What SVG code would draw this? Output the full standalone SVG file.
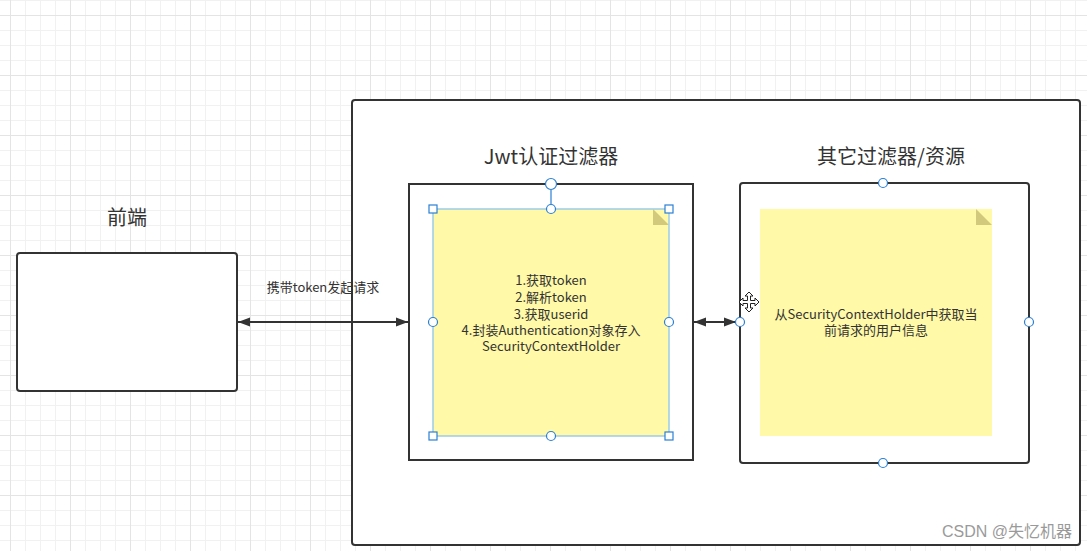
<svg xmlns="http://www.w3.org/2000/svg" width="1087" height="551" viewBox="0 0 1087 551">
<defs>
<pattern id="minor" x="10" y="0" width="15" height="15" patternUnits="userSpaceOnUse">
<path d="M0.5 0V15M0 0.5H15" stroke="#f1f1f1" stroke-width="1" fill="none"/>
</pattern>
<pattern id="major" x="10" y="15" width="60" height="60" patternUnits="userSpaceOnUse">
<path d="M0.5 0V60M0 0.5H60" stroke="#e4e4e4" stroke-width="1" fill="none"/>
</pattern>
<marker id="ah" viewBox="0 0 12 10" refX="12" refY="5" markerWidth="12" markerHeight="10" markerUnits="userSpaceOnUse" orient="auto-start-reverse">
<path d="M0 0.5L12 5L0 9.5Z" fill="#333"/>
</marker>
</defs>
<style>
.box{fill:#fff;stroke:#333;stroke-width:2}
.note{fill:#fff9a8}
.fold{fill:#d3c97c}
.sel{fill:none;stroke:#9ccbe9;stroke-width:1.5}
.h{fill:#fff;stroke:#2a7fd4;stroke-width:1.2}
.t{font-family:"Microsoft YaHei","Noto Sans CJK SC",sans-serif;fill:#333}
.lbl{font-size:13px;text-anchor:middle}
.ttl{font-size:20px;text-anchor:middle}
.conn{stroke:#333;stroke-width:2;fill:none}
</style>
<rect width="1087" height="551" fill="#fff"/>
<rect width="1087" height="551" fill="url(#minor)"/>
<rect width="1087" height="551" fill="url(#major)"/>

<g id="container">
<rect class="box" x="352" y="100" width="728" height="445" rx="3"/>
</g>

<g id="frontend">
<rect class="box" x="17" y="253" width="220" height="138" rx="3"/>
<text class="t ttl" x="127" y="225" font-size="18">前端</text>
</g>

<g id="jwt-filter">
<text class="t ttl" x="551" y="164" font-size="21">Jwt认证过滤器</text>
<rect class="box" x="409" y="184" width="284" height="276"/>
<g id="jwt-note">
<rect class="note" x="433" y="209" width="236" height="227"/>
<path class="fold" d="M653 209L669 225H653Z"/>
<rect class="sel" x="433" y="209" width="236" height="227"/>
<text class="t lbl"><tspan x="551" y="285">1.获取token</tspan><tspan x="551" y="302">2.解析token</tspan><tspan x="551" y="319">3.获取userid</tspan><tspan x="551" y="335">4.封装Authentication对象存入</tspan><tspan x="551" y="351">SecurityContextHolder</tspan></text>
<line x1="551" y1="190" x2="551" y2="204" stroke="#2a7fd4" stroke-width="1.2"/>
<circle class="h" cx="551" cy="184" r="5.5"/>
<circle class="h" cx="551" cy="209" r="4.5"/>
<circle class="h" cx="551" cy="436" r="4.5"/>
<circle class="h" cx="433" cy="322" r="4.5"/>
<circle class="h" cx="669" cy="322" r="4.5"/>
<rect class="h" x="429" y="205" width="8" height="8"/>
<rect class="h" x="665" y="205" width="8" height="8"/>
<rect class="h" x="429" y="432" width="8" height="8"/>
<rect class="h" x="665" y="432" width="8" height="8"/>
</g>
</g>

<g id="other-filters">
<text class="t ttl" x="891" y="164">其它过滤器/资源</text>
<rect class="box" x="740" y="183" width="289" height="280" rx="3"/>
<g id="other-note">
<rect class="note" x="760" y="209" width="232" height="227"/>
<path class="fold" d="M976 209L992 225H976Z"/>
<text class="t lbl"><tspan x="876" y="319">从SecurityContextHolder中获取当</tspan><tspan x="876" y="335">前请求的用户信息</tspan></text>
</g>
<circle class="h" cx="883" cy="183" r="4.5"/>
<circle class="h" cx="883" cy="463" r="4.5"/>
<circle class="h" cx="1029" cy="322" r="4.5"/>
</g>

<g id="connectors">
<line class="conn" x1="238" y1="322" x2="408" y2="322" marker-start="url(#ah)" marker-end="url(#ah)"/>
<text class="t lbl" x="323" y="292">携带token发起请求</text>
<line class="conn" x1="694" y1="322" x2="736" y2="322" marker-start="url(#ah)" marker-end="url(#ah)"/>
<circle class="h" cx="740" cy="322" r="4.5"/>
</g>

<g id="cursor" transform="translate(749 302)">
<path d="M0-10L4-6H1.5V-1.5H6V-4L10 0L6 4V1.5H1.5V6H4L0 10L-4 6H-1.5V1.5H-6V4L-10 0L-6-4V-1.5H-1.5V-6H-4Z" fill="#fff" stroke="#222" stroke-width="1"/>
</g>

<text x="1072" y="537" font-family="'Liberation Sans','Noto Sans CJK SC',sans-serif" font-size="16" fill="#9a9a9a" text-anchor="end">CSDN @失忆机器</text>
</svg>
